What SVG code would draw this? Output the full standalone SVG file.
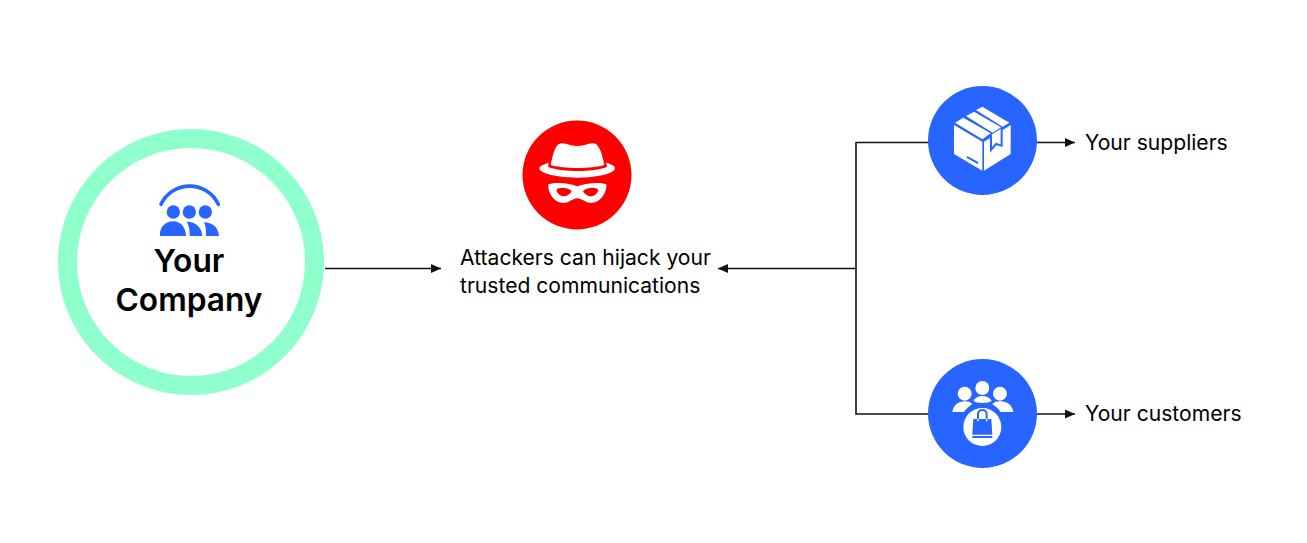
<svg xmlns="http://www.w3.org/2000/svg" width="1307" height="543" viewBox="0 0 1307 543">
<style>
text{font-family:Inter,"Liberation Sans",sans-serif;fill:#000}
.l{font-size:21.1px}
.t{font-size:31.7px;font-weight:600;text-anchor:middle}
.c{fill:none;stroke:#111;stroke-width:1.6}
.b{fill:#2864ff}
.w{fill:#fff}
</style>
<defs><marker id="a" markerUnits="userSpaceOnUse" markerWidth="10" markerHeight="9" refX="10" refY="4.500" orient="auto"><path d="M0 0L10 4.500L0 9Z" fill="#111"/></marker></defs>
<rect width="1307" height="543" fill="#fff"/>
<g id="connectors">
<path class="c" d="M325 268.500H441" marker-end="url(#a)"/>
<path class="c" d="M930 142.500H856V414H930M856 268.500H718" marker-end="url(#a)"/>
<path class="c" d="M1036 142.500H1075" marker-end="url(#a)"/>
<path class="c" d="M1036 414H1075" marker-end="url(#a)"/>
</g>
<g id="company">
<circle cx="191" cy="262" r="123.500" fill="#fff" stroke="#8fffcb" stroke-width="19"/>
<g transform="translate(130 170) scale(.3333)">
<path d="M93 103A95 95 0 0 1 265 103" fill="none" stroke="#2864ff" stroke-width="11" stroke-linecap="round"/>
<circle class="b" cx="130" cy="126" r="20"/><circle class="b" cx="178" cy="126" r="20"/><circle class="b" cx="226" cy="126" r="20"/>
<path class="b" d="M90 198V188C92 168 110 154 129 154C150 154 167 170 168 198Z"/>
<path class="b" d="M170 155C195 154 216 172 217 198H179C179 182 178 168 170 155Z"/>
<path class="b" d="M222 157C248 157 266 174 267 198H228C228 184 228 170 222 157Z"/>
</g>
<text class="t" x="189" y="272">Your</text>
<text class="t" x="189" y="311">Company</text>
</g>
<g id="attacker">
<circle cx="577" cy="175" r="54.500" fill="#ff0000"/>
<g transform="translate(515 115) scale(.3333)">
<path class="w" d="M107 150C112 125 118 100 128 90C135 82 150 85 165 90C178 94 195 94 208 90C225 85 240 80 248 92C258 105 264 128 268 150C230 162 145 162 107 150Z"/>
<path class="w" d="M100 142C96 148 74 150 73 160C73 176 130 188 187 188C245 188 300 176 300 160C300 150 282 148 274 142L276 156C235 172 140 172 100 156Z"/>
<path class="w" fill-rule="evenodd" d="M100 208C125 200 165 205 187 214C210 205 250 200 274 208C276 235 255 264 228 264C212 264 200 250 187 250C174 250 162 264 146 264C118 264 98 235 100 208ZM124 225C130 216 155 216 170 228C165 240 150 246 140 243C132 240 126 234 124 225ZM250 225C244 216 219 216 204 228C209 240 224 246 234 243C242 240 248 234 250 225Z"/>
</g>
<text class="l" x="460" y="265">Attackers can hijack your</text>
<text class="l" x="460" y="293">trusted communications</text>
</g>
<g id="suppliers">
<circle class="b" cx="982.500" cy="140.500" r="54.500"/>
<g transform="translate(920 80) scale(.3333)">
<path class="w" d="M102 135L187 185V272L102 222Z"/>
<path class="w" d="M192 185L272 135V222L192 272Z"/>
<path class="w" d="M105 128L130 113L212 160L187 178Z"/>
<path class="w" d="M138 108L162 95L243 142L218 158Z"/>
<path class="w" d="M168 90L187 80L268 128L248 140Z"/>
<path d="M213 165V210L228 192L245 197V145" fill="#fff" stroke="#2864ff" stroke-width="6"/>
<path d="M143 232L172 248" fill="none" stroke="#2864ff" stroke-width="6" stroke-linecap="round"/>
</g>
<text class="l" x="1085" y="150">Your suppliers</text>
</g>
<g id="customers">
<circle class="b" cx="982.500" cy="413.500" r="54.500"/>
<g transform="translate(920 352) scale(.3333)">
<circle class="w" cx="187" cy="108" r="21"/><circle class="w" cx="134" cy="125" r="21"/><circle class="w" cx="240" cy="125" r="21"/>
<path class="w" d="M97 180C100 160 115 148 135 148C145 148 152 150 157 156C148 162 138 170 132 180Z"/>
<path class="w" d="M160 146C170 127 205 127 215 146C205 155 170 155 160 146Z"/>
<path class="w" d="M280 180C277 160 262 148 240 148C230 148 222 150 217 156C226 162 236 170 242 180Z"/>
<circle class="w" cx="187" cy="225" r="57"/>
<path class="b" d="M160 201H214L217 248H157Z"/>
<path class="b" d="M157 252H217V258H157Z"/>
<path d="M174 205V186C174 170 200 170 200 186V205" fill="none" stroke="#2864ff" stroke-width="6"/>
<path d="M174 200V208M200 200V208" stroke="#fff" stroke-width="4"/>
</g>
<text class="l" x="1085" y="421">Your customers</text>
</g>
</svg>
